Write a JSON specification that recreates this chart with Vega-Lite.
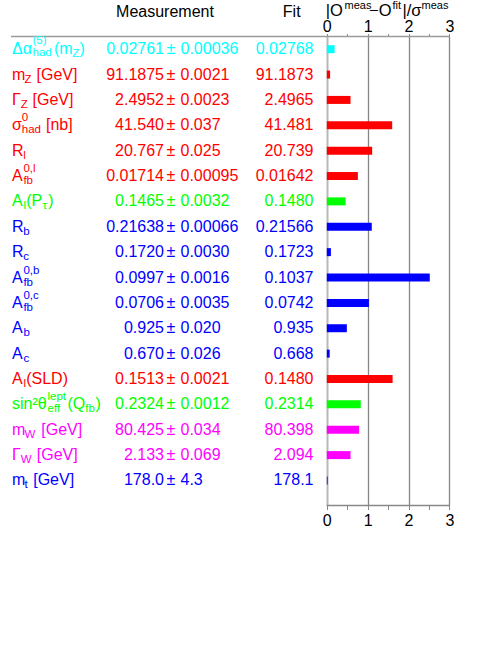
{
  "$schema": "https://vega.github.io/schema/vega-lite/v6.json",
  "width": 498,
  "height": 469,
  "autosize": {"type": "none"},
  "padding": {"top": 36.5, "left": 0, "right": 0, "bottom": 139.5},
  "background": "white",
  "config": {
    "view": {"stroke": null},
    "text": {"font": "Liberation Sans"},
    "axis": {"labelFont": "Liberation Sans"}
  },
  "data": {
    "values": [
      {"key": "dalpha", "sym": "Δα", "sub": "had", "sup": "(5)", "tail": "(m", "tsub": "Z", "tend": ")", "meas": "0.02761", "err": "0.00036", "fit": "0.02768", "pull": 0.19, "sector": "Δα input"},
      {"key": "mZ", "sym": "m", "sub": "Z", "sup": "", "tail": "[GeV]", "tsub": "", "tend": "", "meas": "91.1875", "err": "0.0021", "fit": "91.1873", "pull": 0.08, "sector": "Z lineshape & leptons"},
      {"key": "GZ", "sym": "Γ", "sub": "Z", "sup": "", "tail": "[GeV]", "tsub": "", "tend": "", "meas": "2.4952", "err": "0.0023", "fit": "2.4965", "pull": 0.58, "sector": "Z lineshape & leptons"},
      {"key": "sigma", "sym": "σ", "sub": "had", "sup": "0", "tail": "[nb]", "tsub": "", "tend": "", "meas": "41.540", "err": "0.037", "fit": "41.481", "pull": 1.6, "sector": "Z lineshape & leptons"},
      {"key": "Rl", "sym": "R", "sub": "l", "sup": "", "tail": "", "tsub": "", "tend": "", "meas": "20.767", "err": "0.025", "fit": "20.739", "pull": 1.11, "sector": "Z lineshape & leptons"},
      {"key": "Afbl", "sym": "A", "sub": "fb", "sup": "0,l", "tail": "", "tsub": "", "tend": "", "meas": "0.01714", "err": "0.00095", "fit": "0.01642", "pull": 0.76, "sector": "Z lineshape & leptons"},
      {"key": "AlPtau", "sym": "A", "sub": "l", "sup": "", "tail": "(P", "tsub": "τ", "tend": ")", "meas": "0.1465", "err": "0.0032", "fit": "0.1480", "pull": 0.46, "sector": "τ polarisation & jet charge"},
      {"key": "Rb", "sym": "R", "sub": "b", "sup": "", "tail": "", "tsub": "", "tend": "", "meas": "0.21638", "err": "0.00066", "fit": "0.21566", "pull": 1.1, "sector": "heavy flavour & top"},
      {"key": "Rc", "sym": "R", "sub": "c", "sup": "", "tail": "", "tsub": "", "tend": "", "meas": "0.1720", "err": "0.0030", "fit": "0.1723", "pull": 0.1, "sector": "heavy flavour & top"},
      {"key": "Afbb", "sym": "A", "sub": "fb", "sup": "0,b", "tail": "", "tsub": "", "tend": "", "meas": "0.0997", "err": "0.0016", "fit": "0.1037", "pull": 2.52, "sector": "heavy flavour & top"},
      {"key": "Afbc", "sym": "A", "sub": "fb", "sup": "0,c", "tail": "", "tsub": "", "tend": "", "meas": "0.0706", "err": "0.0035", "fit": "0.0742", "pull": 1.03, "sector": "heavy flavour & top"},
      {"key": "Ab", "sym": "A", "sub": "b", "sup": "", "tail": "", "tsub": "", "tend": "", "meas": "0.925", "err": "0.020", "fit": "0.935", "pull": 0.49, "sector": "heavy flavour & top"},
      {"key": "Ac", "sym": "A", "sub": "c", "sup": "", "tail": "", "tsub": "", "tend": "", "meas": "0.670", "err": "0.026", "fit": "0.668", "pull": 0.07, "sector": "heavy flavour & top"},
      {"key": "AlSLD", "sym": "A", "sub": "l", "sup": "", "tail": "(SLD)", "tsub": "", "tend": "", "meas": "0.1513", "err": "0.0021", "fit": "0.1480", "pull": 1.61, "sector": "Z lineshape & leptons"},
      {"key": "sin", "sym": "sin²θ", "sub": "eff", "sup": "lept", "tail": "(Q", "tsub": "fb", "tend": ")", "meas": "0.2324", "err": "0.0012", "fit": "0.2314", "pull": 0.83, "sector": "τ polarisation & jet charge"},
      {"key": "mW", "sym": "m", "sub": "W", "sup": "", "tail": "[GeV]", "tsub": "", "tend": "", "meas": "80.425", "err": "0.034", "fit": "80.398", "pull": 0.79, "sector": "W boson"},
      {"key": "GW", "sym": "Γ", "sub": "W", "sup": "", "tail": "[GeV]", "tsub": "", "tend": "", "meas": "2.133", "err": "0.069", "fit": "2.094", "pull": 0.58, "sector": "W boson"},
      {"key": "mt", "sym": "m", "sub": "t", "sup": "", "tail": "[GeV]", "tsub": "", "tend": "", "meas": "178.0", "err": "4.3", "fit": "178.1", "pull": 0.02, "sector": "heavy flavour & top"}
    ]
  },
  "encoding": {
    "y": {
      "field": "key",
      "type": "nominal",
      "sort": null,
      "axis": null,
      "scale": {
        "domain": ["dalpha", "mZ", "GZ", "sigma", "Rl", "Afbl", "AlPtau", "Rb", "Rc", "Afbb", "Afbc", "Ab", "Ac", "AlSLD", "sin", "mW", "GW", "mt"],
        "paddingInner": 0,
        "paddingOuter": 0.2435,
        "align": 0
      }
    },
    "color": {
      "field": "sector",
      "type": "nominal",
      "legend": null,
      "scale": {
        "domain": ["Δα input", "Z lineshape & leptons", "τ polarisation & jet charge", "heavy flavour & top", "W boson"],
        "range": ["#00ffff", "#ff0000", "#00ff00", "#0000ff", "#ff00ff"]
      }
    }
  },
  "layer": [
    {
      "mark": {"type": "bar", "height": 8},
      "encoding": {
        "x": {
          "field": "pull",
          "type": "quantitative",
          "scale": {"domain": [-8, 4.19], "nice": false, "zero": false},
          "axis": {
            "orient": "bottom",
            "title": null,
            "values": [0, 0.5, 1, 1.5, 2, 2.5, 3],
            "labelExpr": "datum.value % 1 === 0 ? toString(datum.value) : ''",
            "domain": false,
            "tickSize": 4,
            "tickColor": "#888888",
            "labelFontSize": 16,
            "labelColor": "black",
            "labelPadding": 3,
            "labelFlush": false,
            "labelOverlap": false,
            "grid": true,
            "gridColor": {"condition": {"test": "datum.value === 0", "value": "#b8b8b8"}, "value": "#868686"},
            "gridWidth": {"condition": {"test": "datum.value === 0", "value": 2}, "value": 1.3},
            "gridOpacity": {"condition": {"test": "datum.value % 1 !== 0", "value": 0}, "value": 1}
          }
        },
        "x2": {"datum": 0}
      }
    },
    {
      "data": {"values": [{}]},
      "mark": {"type": "rule", "strokeWidth": 1.5},
      "encoding": {
        "x": {
          "datum": -7.7307,
          "type": "quantitative",
          "axis": {
            "orient": "top",
            "title": null,
            "values": [0, 0.5, 1, 1.5, 2, 2.5, 3],
            "labelExpr": "datum.value % 1 === 0 ? toString(datum.value) : ''",
            "domain": false,
            "grid": false,
            "tickSize": 3,
            "tickColor": "#888888",
            "labelFontSize": 16,
            "labelColor": "black",
            "labelPadding": -1,
            "labelFlush": false,
            "labelOverlap": false
          }
        },
        "x2": {"datum": 3},
        "y": {"datum": "dalpha", "type": "nominal", "bandPosition": 0},
        "color": {"value": "#9a9a9a"}
      }
    },
    {
      "data": {"values": [{}]},
      "mark": {"type": "rule", "strokeWidth": 1.5},
      "encoding": {
        "x": {"datum": 0, "type": "quantitative", "axis": null},
        "x2": {"datum": 3},
        "y": {"datum": "mt", "type": "nominal", "bandPosition": 1.486},
        "color": {"value": "#888888"}
      }
    },
    {
      "mark": {"type": "text", "align": "left", "baseline": "middle", "fontSize": 16},
      "encoding": {
        "x": {"datum": -7.7063, "type": "quantitative", "axis": null},
        "text": {"field": "sym", "type": "nominal"}
      }
    },
    {
      "mark": {"type": "text", "align": "left", "baseline": "middle", "fontSize": 11.5,
        "dy": {"expr": "datum.key === 'dalpha' ? 4 : 5"},
        "dx": {"expr": "datum.sym === 'Δα' ? 20.5 : datum.sym === 'm' ? 12.4 : datum.sym === 'Γ' ? 8.8 : datum.sym === 'σ' ? 9.8 : datum.sym === 'R' ? 11.3 : datum.sym === 'A' ? 11.4 : 35.5"}},
      "encoding": {
        "x": {"datum": -7.7063, "type": "quantitative", "axis": null},
        "text": {"field": "sub", "type": "nominal"}
      }
    },
    {
      "mark": {"type": "text", "align": "left", "baseline": "middle", "fontSize": 11.5,
        "dy": {"expr": "datum.key === 'dalpha' ? -8.5 : -7"},
        "dx": {"expr": "datum.sym === 'Δα' ? 20.5 : datum.sym === 'm' ? 12.4 : datum.sym === 'Γ' ? 8.8 : datum.sym === 'σ' ? 9.8 : datum.sym === 'R' ? 11.3 : datum.sym === 'A' ? 11.4 : 35.5"}},
      "encoding": {
        "x": {"datum": -7.7063, "type": "quantitative", "axis": null},
        "text": {"field": "sup", "type": "nominal"}
      }
    },
    {
      "mark": {"type": "text", "align": "left", "baseline": "middle", "fontSize": 16,
        "dx": {"expr": "datum.key === 'dalpha' ? 42 : datum.key === 'mZ' ? 24.5 : datum.key === 'GZ' ? 20.5 : datum.key === 'sigma' ? 34 : datum.key === 'sin' ? 55.5 : datum.key === 'mW' ? 29.3 : datum.key === 'GW' ? 24.8 : datum.key === 'mt' ? 21.2 : 14.2"}},
      "encoding": {
        "x": {"datum": -7.7063, "type": "quantitative", "axis": null},
        "text": {"field": "tail", "type": "nominal"}
      }
    },
    {
      "mark": {"type": "text", "align": "left", "baseline": "middle", "fontSize": 11.5, "dy": 4.5,
        "dx": {"expr": "datum.key === 'dalpha' ? 60.2 : datum.key === 'sin' ? 73.3 : 30.6"}},
      "encoding": {
        "x": {"datum": -7.7063, "type": "quantitative", "axis": null},
        "text": {"field": "tsub", "type": "nominal"}
      }
    },
    {
      "mark": {"type": "text", "align": "left", "baseline": "middle", "fontSize": 16,
        "dx": {"expr": "datum.key === 'dalpha' ? 67.5 : datum.key === 'sin' ? 83.5 : 36.3"}},
      "encoding": {
        "x": {"datum": -7.7063, "type": "quantitative", "axis": null},
        "text": {"field": "tend", "type": "nominal"}
      }
    },
    {
      "mark": {"type": "text", "align": "right", "baseline": "middle", "fontSize": 16},
      "encoding": {
        "x": {"datum": -3.9857, "type": "quantitative", "axis": null},
        "text": {"field": "meas", "type": "nominal"}
      }
    },
    {
      "mark": {"type": "text", "align": "left", "baseline": "middle", "fontSize": 16, "text": "±"},
      "encoding": {
        "x": {"datum": -3.9244, "type": "quantitative", "axis": null}
      }
    },
    {
      "mark": {"type": "text", "align": "left", "baseline": "middle", "fontSize": 16},
      "encoding": {
        "x": {"datum": -3.5817, "type": "quantitative", "axis": null},
        "text": {"field": "err", "type": "nominal"}
      }
    },
    {
      "mark": {"type": "text", "align": "right", "baseline": "middle", "fontSize": 16},
      "encoding": {
        "x": {"datum": -0.3262, "type": "quantitative", "axis": null},
        "text": {"field": "fit", "type": "nominal"}
      }
    },
    {
      "data": {"values": [{}]},
      "mark": {"type": "text", "align": "center", "baseline": "middle", "fontSize": 16, "dy": -36.7, "text": "Measurement"},
      "encoding": {
        "x": {"datum": -3.9612, "type": "quantitative", "axis": null},
        "y": {"datum": "dalpha", "type": "nominal"},
        "color": {"value": "black"}
      }
    },
    {
      "data": {"values": [{}]},
      "mark": {"type": "text", "align": "center", "baseline": "middle", "fontSize": 16, "dy": -36.7, "text": "Fit"},
      "encoding": {
        "x": {"datum": -0.8598, "type": "quantitative", "axis": null},
        "y": {"datum": "dalpha", "type": "nominal"},
        "color": {"value": "black"}
      }
    },
    {
      "data": {"values": [{}]},
      "mark": {"type": "text", "align": "left", "baseline": "middle", "fontSize": 16.5, "dy": -38, "text": "|O"},
      "encoding": {
        "x": {"datum": -0.0251, "type": "quantitative", "axis": null},
        "y": {"datum": "dalpha", "type": "nominal"},
        "color": {"value": "black"}
      }
    },
    {
      "data": {"values": [{}]},
      "mark": {"type": "text", "align": "left", "baseline": "middle", "fontSize": 11, "dy": -43.5, "text": "meas"},
      "encoding": {
        "x": {"datum": 0.4326, "type": "quantitative", "axis": null},
        "y": {"datum": "dalpha", "type": "nominal"},
        "color": {"value": "black"}
      }
    },
    {
      "data": {"values": [{}]},
      "mark": {"type": "text", "align": "left", "baseline": "middle", "fontSize": 16.5, "dy": -38, "text": "−O"},
      "encoding": {
        "x": {"datum": 1.0324, "type": "quantitative", "axis": null},
        "y": {"datum": "dalpha", "type": "nominal"},
        "color": {"value": "black"}
      }
    },
    {
      "data": {"values": [{}]},
      "mark": {"type": "text", "align": "left", "baseline": "middle", "fontSize": 11, "dy": -43.5, "text": "fit"},
      "encoding": {
        "x": {"datum": 1.6076, "type": "quantitative", "axis": null},
        "y": {"datum": "dalpha", "type": "nominal"},
        "color": {"value": "black"}
      }
    },
    {
      "data": {"values": [{}]},
      "mark": {"type": "text", "align": "left", "baseline": "middle", "fontSize": 16.5, "dy": -38, "text": "|/σ"},
      "encoding": {
        "x": {"datum": 1.8524, "type": "quantitative", "axis": null},
        "y": {"datum": "dalpha", "type": "nominal"},
        "color": {"value": "black"}
      }
    },
    {
      "data": {"values": [{}]},
      "mark": {"type": "text", "align": "left", "baseline": "middle", "fontSize": 11, "dy": -43.5, "text": "meas"},
      "encoding": {
        "x": {"datum": 2.3174, "type": "quantitative", "axis": null},
        "y": {"datum": "dalpha", "type": "nominal"},
        "color": {"value": "black"}
      }
    }
  ],
  "resolve": {"axis": {"x": "independent"}}
}
